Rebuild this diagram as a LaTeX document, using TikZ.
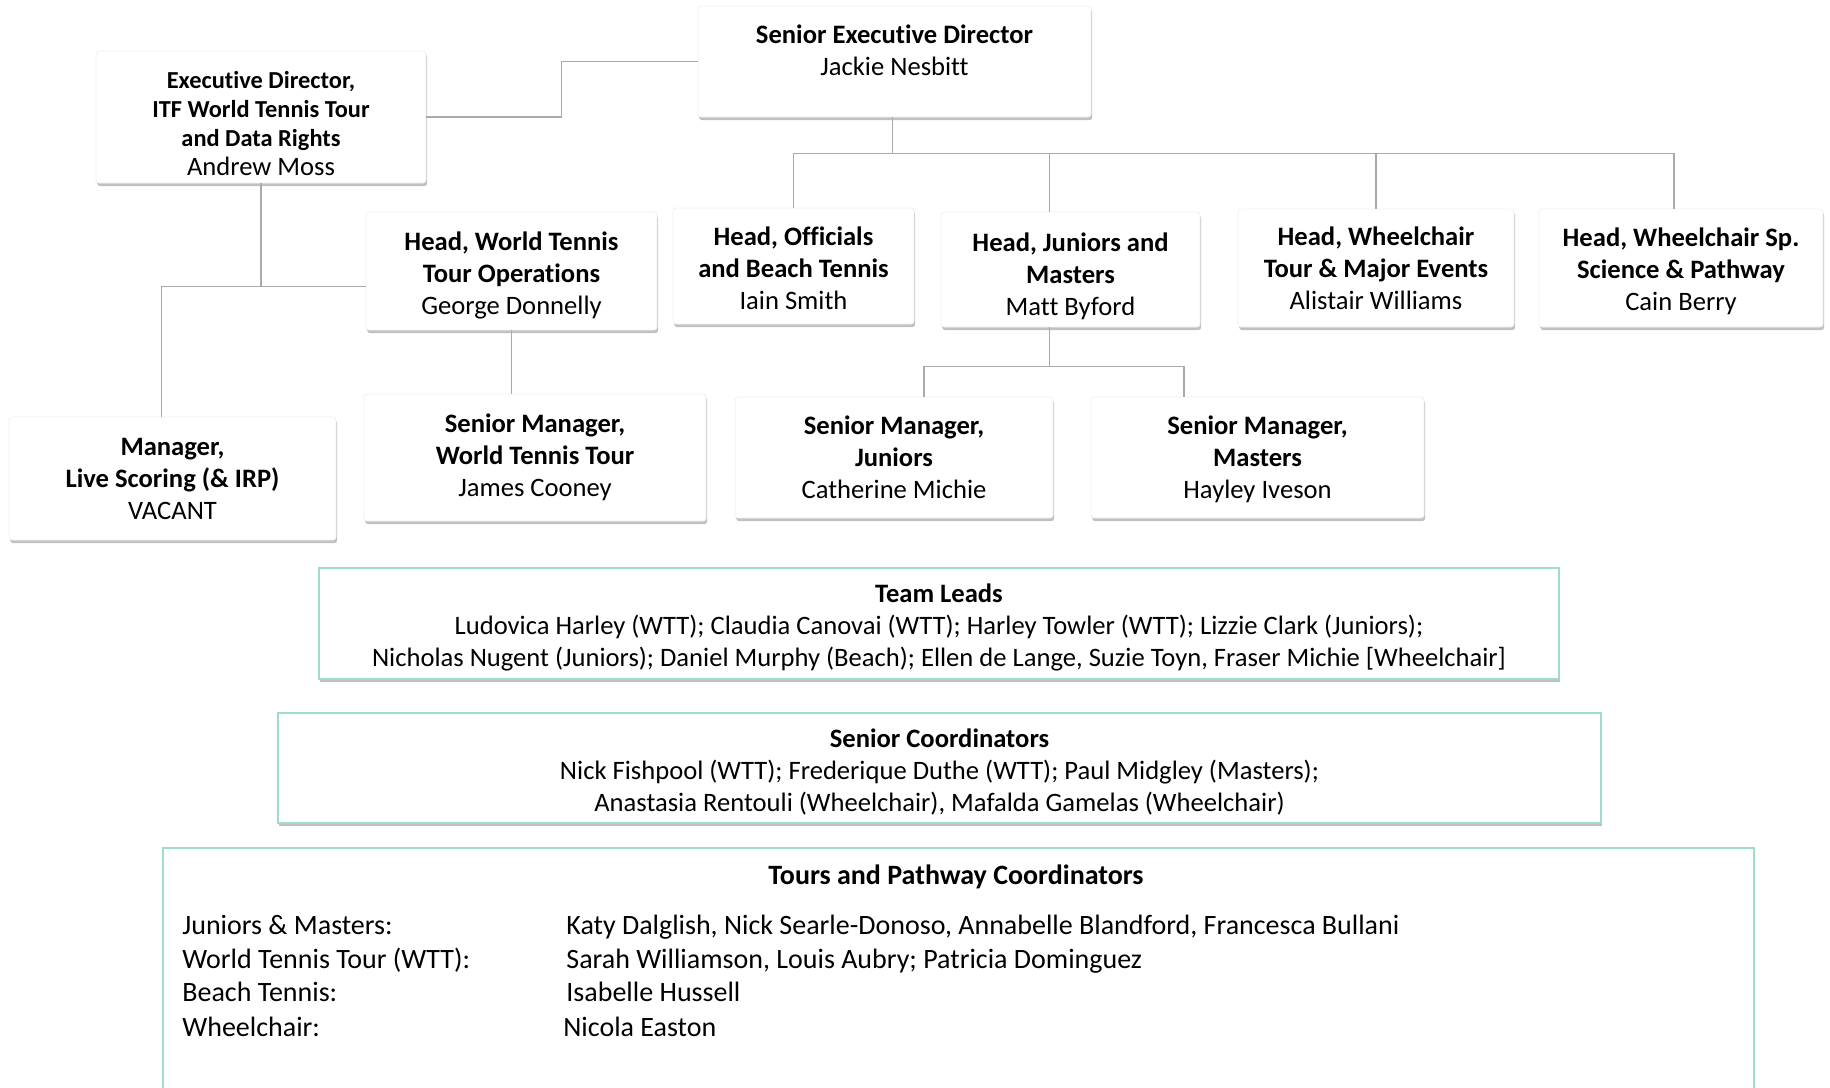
\documentclass[tikz,border=0pt]{standalone}
\usepackage{fontspec}
\setmainfont{Carlito}[Ligatures=NoCommon]
\usetikzlibrary{shadows}
\definecolor{L}{RGB}{170,170,170}
\definecolor{T}{RGB}{160,221,200}
\tikzset{
  box/.style={fill=white, draw=black!6, rounded corners=1.5pt, align=center, inner sep=0pt,
    font=\fontsize{13.3}{16}\selectfont,
    drop shadow={shadow xshift=0.6pt, shadow yshift=-1.6pt, opacity=0.35, fill=black!70}},
  group/.style={box, draw=T, rounded corners=0pt, line width=0.8pt},
  link/.style={draw=L, line width=0.8pt},
  row/.style={anchor=base west, inner sep=0pt, font=\fontsize{14}{16}\selectfont}
}
\begin{document}
\begin{tikzpicture}[x=0.5pt, y=-0.5pt]
  \useasboundingbox (0,0) rectangle (1830,1087);
  \node[box, minimum width=196.5pt, minimum height=55.5pt] (sed) at (894.5,61.5)
    {\rule{0pt}{11pt}\textbf{Senior Executive Director}\\Jackie Nesbitt\\[-3pt]~};
  \node[box, minimum width=165pt, minimum height=66pt, font=\fontsize{12.2}{14.6}\selectfont] (ed) at (261,117)
    {\rule{0pt}{15pt}\textbf{Executive Director,}\\\textbf{ITF World Tennis Tour}\\\textbf{and Data Rights}\\
     {\fontsize{13.3}{14.6}\selectfont Andrew Moss}};
  \node[box, minimum width=145.5pt, minimum height=59pt] (hwo) at (511.5,271)
    {\rule{0pt}{13.5pt}\textbf{Head, World Tennis}\\\textbf{Tour Operations}\\George Donnelly};
  \node[box, minimum width=120.5pt, minimum height=58pt] (hof) at (793.5,266)
    {\rule{0pt}{11.5pt}\textbf{Head, Officials}\\\textbf{and Beach Tennis}\\Iain Smith};
  \node[box, minimum width=129.5pt, minimum height=57.5pt] (hj) at (1070.5,269.5)
    {\rule{0pt}{16.5pt}\textbf{Head, Juniors and}\\\textbf{Masters}\\Matt Byford};
  \node[box, minimum width=138pt, minimum height=59pt] (hwt) at (1376,268)
    {\textbf{Head, Wheelchair}\\\textbf{Tour \& Major Events}\\Alistair Williams};
  \node[box, minimum width=142pt, minimum height=59pt] (hws) at (1681,268)
    {\rule{0pt}{12.5pt}\textbf{Head, Wheelchair Sp.}\\\textbf{Science \& Pathway}\\Cain Berry};
  \node[box, minimum width=163.5pt, minimum height=61.5pt] (mls) at (172.5,478.5)
    {\textbf{Manager,}\\\textbf{Live Scoring (\& IRP)}\\VACANT};
  \node[box, minimum width=171pt, minimum height=63.5pt] (smw) at (535,457.5)
    {\textbf{Senior Manager,}\\\textbf{World Tennis Tour}\\James Cooney};
  \node[box, minimum width=159pt, minimum height=60.5pt] (smj) at (894,457.5)
    {\textbf{Senior Manager,}\\\textbf{Juniors}\\Catherine Michie};
  \node[box, minimum width=166.5pt, minimum height=60.5pt] (smm) at (1257.5,457.5)
    {\rule{0pt}{11.5pt}\textbf{Senior Manager,}\\\textbf{Masters}\\Hayley Iveson};

  \node[group, minimum width=620pt, minimum height=55.5pt] (tl) at (939,623.5)
    {\rule{0pt}{13.5pt}\textbf{Team Leads}\\Ludovica Harley (WTT); Claudia Canovai (WTT); Harley Towler (WTT); Lizzie Clark (Juniors);\\
     Nicholas Nugent (Juniors); Daniel Murphy (Beach); Ellen de Lange, Suzie Toyn, Fraser Michie [Wheelchair]};
  \node[group, minimum width=661.5pt, minimum height=55pt] (sc) at (939.5,768)
    {\rule{0pt}{13.5pt}\textbf{Senior Coordinators}\\Nick Fishpool (WTT); Frederique Duthe (WTT); Paul Midgley (Masters);\\
     Anastasia Rentouli (Wheelchair), Mafalda Gamelas (Wheelchair)};
  \node[group, anchor=north, minimum width=795.5pt, minimum height=130pt] (tpc) at (958.5,847) {};
  \node[row, anchor=center] (tpct) at (956,877) {\textbf{Tours and Pathway Coordinators}};
  \node[row] (jm) at (182,934) {Juniors \& Masters:};
  \node[row] (jmn) at (566,934) {Katy Dalglish, Nick Searle-Donoso, Annabelle Blandford, Francesca Bullani};
  \node[row] (wtt) at (182,968) {World Tennis Tour (WTT):};
  \node[row] (wttn) at (566,968) {Sarah Williamson, Louis Aubry; Patricia Dominguez};
  \node[row] (bt) at (182,1001) {Beach Tennis:};
  \node[row] (btn) at (566,1001) {Isabelle Hussell};
  \node[row] (wc) at (182,1036) {Wheelchair:};
  \node[row] (wcn) at (563,1036) {Nicola Easton};

  \coordinate (hjtop) at ([xshift=-10.5pt]hj.north);
  \coordinate (hjbot) at ([xshift=-10.5pt]hj.south);
  \coordinate (hwstop) at ([xshift=-3.5pt]hws.north);
  \coordinate (smjtop) at ([xshift=15pt]smj.north);
  \coordinate (smmtop) at ([xshift=-36.75pt]smm.north);
  \coordinate (mlstop) at ([xshift=-5.5pt]mls.north);

  \draw[link] (ed.east) -- ++(135,0) |- (sed.west);
  \draw[link] ([xshift=-1pt]sed.south) -- ++(0,36) coordinate (bus);
  \draw[link] (hof.north |- bus) -- (hwstop |- bus);
  \draw[link] (hof.north |- bus) -- (hof.north);
  \draw[link] (hjtop |- bus) -- (hjtop);
  \draw[link] (hwt.north |- bus) -- (hwt.north);
  \draw[link] (hwstop |- bus) -- (hwstop);
  \draw[link] (hjbot) -- ++(0,39) coordinate (bus2);
  \draw[link] (smjtop |- bus2) -- (smmtop |- bus2);
  \draw[link] (smjtop |- bus2) -- (smjtop);
  \draw[link] (smmtop |- bus2) -- (smmtop);
  \draw[link] (ed.south) -- ++(0,103) coordinate (j1);
  \draw[link] (hwo.west |- j1) -| (mlstop);
  \draw[link] (hwo.south) -- (hwo.south |- smw.north);
\end{tikzpicture}
\end{document}
